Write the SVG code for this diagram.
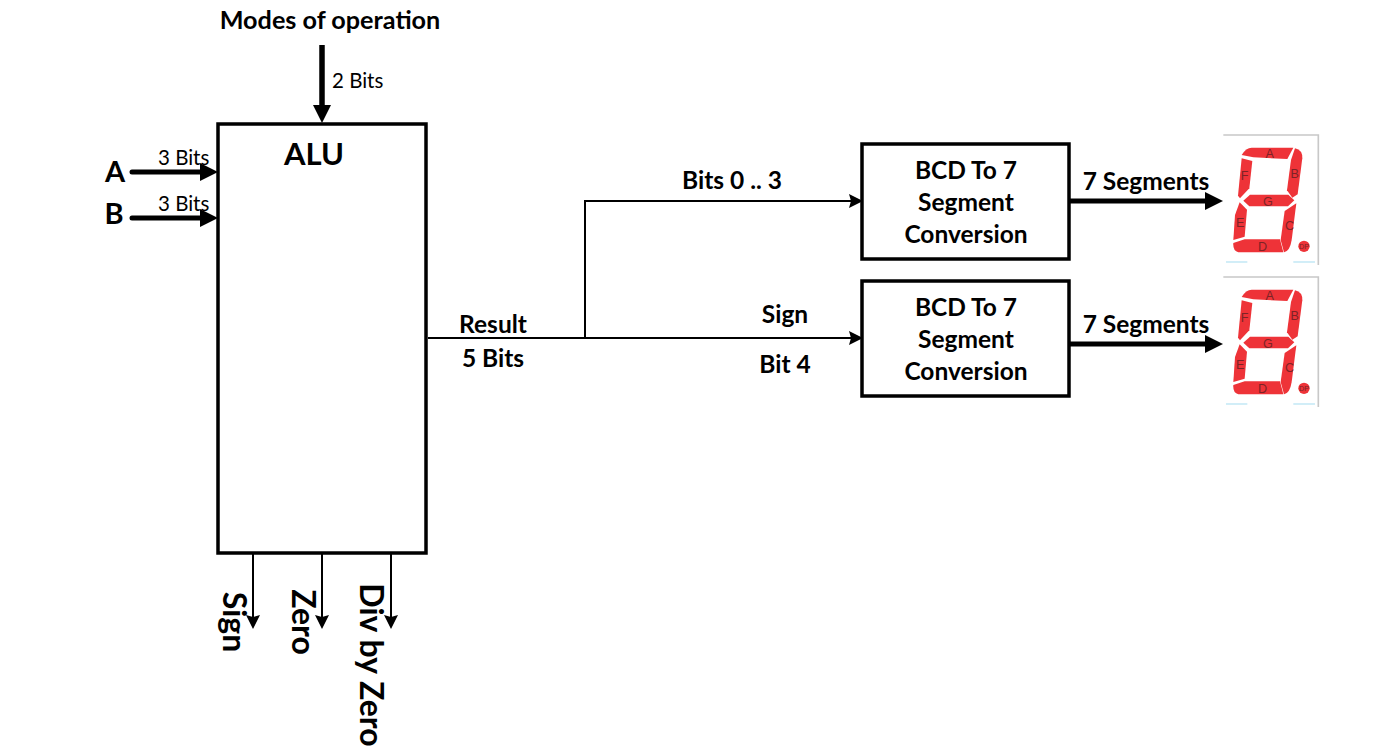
<svg xmlns="http://www.w3.org/2000/svg" width="1387" height="751" viewBox="0 0 1387 751">
<style>
text{font-family:Lato,"Liberation Sans",sans-serif;fill:#000}
.b{font-weight:700;font-size:24.5px;text-anchor:middle}
.v{font-weight:700;font-size:32px;text-anchor:middle}
.h{font-weight:700;font-size:29px;text-anchor:middle}
.r{font-size:20.5px}
.box{fill:#fff;stroke:#000;stroke-width:3.5}
.seg{fill:#ee3338}
.sl{font-family:"Liberation Sans",sans-serif;font-size:38px;fill:#7c2326;text-anchor:middle}
.c{fill:none;stroke:#000}
</style>
<defs>
<marker id="ah" markerUnits="userSpaceOnUse" markerWidth="16" markerHeight="16" refX="8" refY="7" orient="auto"><path d="M0 0L14 7L0 14L2 7Z"/></marker>
<marker id="ahl" markerUnits="userSpaceOnUse" markerWidth="20" markerHeight="20" refX="10" refY="9" orient="auto"><path d="M0 0L18 9L0 18Z"/></marker>
<g id="disp" transform="scale(.3333)">
<rect x="40" y="30" width="285" height="390" fill="#fff"/>
<path d="M40 30H325V420" fill="none" stroke="#c8c8c8" stroke-width="5"/>
<path class="seg" d="M95 90Q108 68 125 68H250L232 102L130 97Z"/>
<path class="seg" d="M255 70Q278 75 277 100L263 208L247 218L231 196L243 105Z"/>
<path class="seg" d="M95 100L127 108L118 190L90 220L84 212Z"/>
<path class="seg" d="M120 209H235L253 226L234 244H118L100 227Z"/>
<path class="seg" d="M89 232L111 254L104 335L70 345L75 270Z"/>
<path class="seg" d="M259 235L245 345Q240 378 222 382L212 345L224 258Z"/>
<path class="seg" d="M70 354L104 343H210L220 382H85Q68 378 70 354Z"/>
<circle class="seg" cx="282" cy="364" r="17"/>
<text class="sl" x="179" y="100">A</text><text class="sl" x="254" y="160">B</text>
<text class="sl" x="104" y="164">F</text><text class="sl" x="174" y="242">G</text>
<text class="sl" x="91" y="307">E</text><text class="sl" x="239" y="316">C</text>
<text class="sl" x="158" y="379">D</text>
<text class="sl" x="282" y="372" style="font-size:22px">DP</text>
<path d="M48 411H112M250 411H315" stroke="#5cc2e6" stroke-width="3" opacity=".55"/>
</g>
</defs>
<rect width="1387" height="751" fill="#fff"/>

<g id="connectors">
<path class="c" stroke-width="5.5" d="M322 45V115" marker-end="url(#ahl)"/>
<path class="c" stroke-width="5" stroke-linecap="round" d="M132 172H210" marker-end="url(#ahl)"/>
<path class="c" stroke-width="5" stroke-linecap="round" d="M132 218H210" marker-end="url(#ahl)"/>
<path class="c" stroke-width="2" d="M428 338H857" marker-end="url(#ah)"/>
<path class="c" stroke-width="2" d="M585 338V201H857" marker-end="url(#ah)"/>
<path class="c" stroke-width="5" d="M1070 201H1215" marker-end="url(#ahl)"/>
<path class="c" stroke-width="5" d="M1070 344H1215" marker-end="url(#ahl)"/>
<path class="c" stroke-width="2" d="M253 554V623" marker-end="url(#ah)"/>
<path class="c" stroke-width="2" d="M322 554V623" marker-end="url(#ah)"/>
<path class="c" stroke-width="2" d="M391 554V623" marker-end="url(#ah)"/>
</g>

<g id="alu"><rect class="box" x="218" y="124" width="208" height="429"/><text x="314" y="165" style="font-weight:700;font-size:31px;text-anchor:middle">ALU</text></g>
<g id="bcd1"><rect class="box" x="862" y="144" width="207" height="115"/>
<text class="b" x="966" y="179">BCD To 7</text><text class="b" x="966" y="211">Segment</text><text class="b" x="966" y="243">Conversion</text></g>
<g id="bcd2"><rect class="box" x="862" y="281" width="207" height="115"/>
<text class="b" x="966" y="316">BCD To 7</text><text class="b" x="966" y="348">Segment</text><text class="b" x="966" y="380">Conversion</text></g>
<g id="display1"><use href="#disp" transform="translate(1210,125)"/></g>
<g id="display2"><use href="#disp" transform="translate(1210,267)"/></g>

<g id="labels">
<text class="b" x="330" y="29" style="font-size:25.2px">Modes of operation</text>
<text class="r" x="332" y="88">2 Bits</text>
<text class="h" x="115" y="182">A</text>
<text class="h" x="114" y="224">B</text>
<text class="r" x="158" y="165">3 Bits</text>
<text class="r" x="158" y="211">3 Bits</text>
<text class="b" x="493" y="333">Result</text>
<text class="b" x="493" y="367">5 Bits</text>
<text class="b" x="732" y="189">Bits 0 .. 3</text>
<text class="b" x="785" y="323">Sign</text>
<text class="b" x="785" y="373">Bit 4</text>
<text class="b" x="1146" y="190">7 Segments</text>
<text class="b" x="1146" y="333">7 Segments</text>
<text class="v" transform="translate(223,622) rotate(90)">Sign</text>
<text class="v" transform="translate(292,622) rotate(90)">Zero</text>
<text class="v" transform="translate(360,665) rotate(90)">Div by Zero</text>
</g>
</svg>
